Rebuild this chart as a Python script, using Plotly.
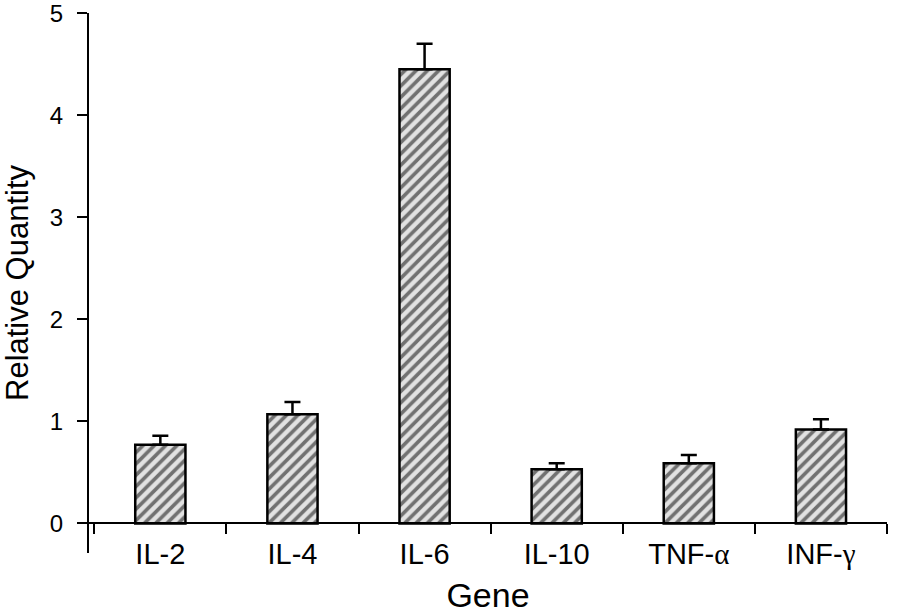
import plotly.graph_objects as go

genes = ['IL-2', 'IL-4', 'IL-6', 'IL-10',
         "TNF-<span style='font-family:Liberation Serif'>α</span>",
         "INF-<span style='font-family:Liberation Serif'>γ</span>"]
quantity = [0.77, 1.07, 4.45, 0.53, 0.59, 0.92]
sem = [0.09, 0.12, 0.25, 0.06, 0.08, 0.10]
y_ticks = [0, 1, 2, 3, 4, 5]

y_min, y_max = -0.29, 5.002

fig = go.Figure()
fig.add_bar(
    x=genes, y=quantity, width=0.38,
    marker=dict(color='#e2e2e2',
                line=dict(color='black', width=2.5),
                pattern=dict(shape='/', fgcolor='black', bgcolor='#e2e2e2',
                             size=8, solidity=0.45)),
    error_y=dict(type='data', array=sem, arrayminus=[0] * len(sem),
                 color='black', thickness=2.5, width=8),
)

fig.update_layout(
    width=898, height=614,
    margin=dict(l=89, r=11, t=13, b=61),
    plot_bgcolor='white', paper_bgcolor='white',
    showlegend=False,
    font=dict(family='Liberation Sans, Arial', color='black'),
)
fig.add_annotation(
    text='Relative Quantity', textangle=-90, showarrow=False,
    xref='paper', yref='paper', x=0, y=0.5, xanchor='center', yanchor='middle',
    xshift=-72, font=dict(size=31),
)
fig.update_xaxes(
    range=[-0.54, 5.5], anchor='free', position=(0 - y_min) / (y_max - y_min),
    showline=True, linecolor='black', linewidth=2,
    ticks='outside', tickson='boundaries', ticklen=10, tickwidth=2, tickcolor='black',
    tickfont=dict(size=29), ticklabelstandoff=5,
    title=dict(text='Gene', font=dict(size=34), standoff=20),
    showgrid=False, zeroline=False, automargin=False,
)
fig.update_yaxes(
    range=[y_min, y_max], tickvals=y_ticks,
    showline=True, linecolor='black', linewidth=2,
    ticks='outside', ticklen=10, tickwidth=2, tickcolor='black',
    tickfont=dict(size=24), ticklabelstandoff=9, ticklabeloverflow='allow',
    showgrid=False, zeroline=False, automargin=False,
)

# drop the default 8px page margin so the figure sits at the window corner
fig.write_html('out.html', config={'displayModeBar': False},
               post_script="document.body.style.margin='0px';")
